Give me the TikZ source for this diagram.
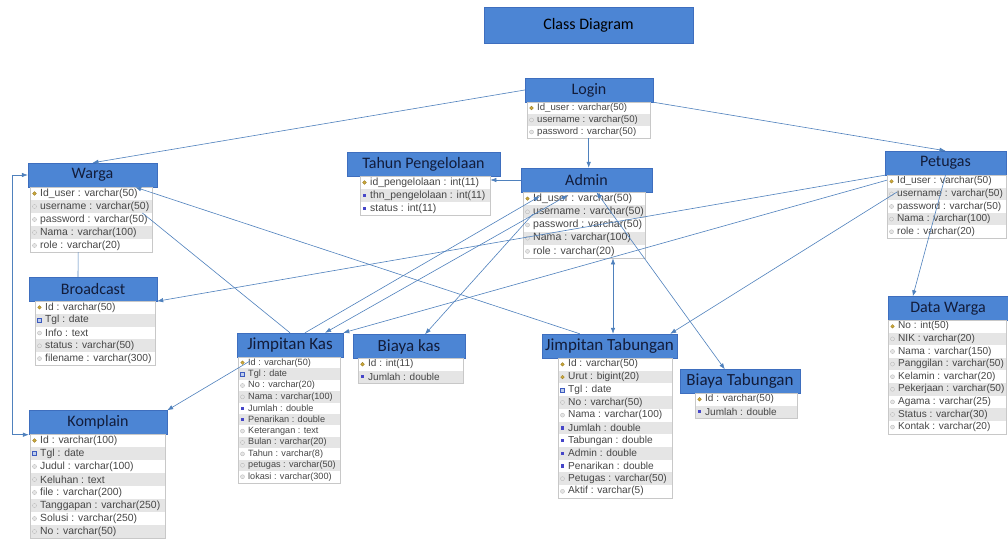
\documentclass[tikz,border=0pt]{standalone}
\usepackage{fontspec}
\setmainfont{Liberation Sans}
\newfontfamily\headfont{Carlito}
\usepackage{tikz}
\usetikzlibrary{arrows.meta,calc}
\definecolor{headfill}{RGB}{76,133,212}
\definecolor{headline}{RGB}{62,110,190}
\definecolor{headtext}{RGB}{18,28,58}
\definecolor{linkcol}{RGB}{79,129,189}
\definecolor{rowgray}{RGB}{229,229,229}
\definecolor{frameline}{RGB}{200,200,200}
\definecolor{fieldtext}{RGB}{70,70,70}

\begin{document}
\begin{tikzpicture}[x=1pt, y=-1pt,
    header/.style={rectangle, draw=headline, fill=headfill, minimum height=24pt, inner sep=0pt,
      text=headtext, font=\headfont\fontsize{16}{16}\selectfont},
    attrframe/.style={rectangle, fill=white, inner sep=0pt},
    attrline/.style={draw=frameline, line width=0.5pt},
    attrtext/.style={anchor=west, inner sep=0pt, text=fieldtext},
    keyicon/.style={circle, minimum size=3.6pt, inner sep=0pt, fill={rgb,255:red,205;green,170;blue,60}, draw={rgb,255:red,150;green,120;blue,30}, line width=0.3pt},
    fieldicon/.style={circle, minimum size=4pt, inner sep=0pt, fill=gray!20, draw=gray!60, line width=0.3pt},
    numicon/.style={rectangle, minimum size=3.4pt, inner sep=0pt, fill={rgb,255:red,70;green,70;blue,200}},
    dateicon/.style={rectangle, minimum size=4pt, inner sep=0pt, fill={rgb,255:red,190;green,205;blue,235}, draw={rgb,255:red,60;green,90;blue,190}, line width=0.4pt},
    link/.style={draw=linkcol, line width=0.6pt, -{Latex[length=6pt,width=4.5pt]}},
    twoway/.style={draw=linkcol, line width=0.6pt, {Latex[length=6pt,width=4.5pt]}-{Latex[length=6pt,width=4.5pt]}},
    plain/.style={draw=linkcol, line width=0.6pt}]

  % Variables
  % name, x, y, width, row height, rows, fields
  \def\tablerows#1#2#3#4#5#6#7{%
    \pgfmathsetmacro\fs{0.8*#5}
    \pgfmathsetmacro\bh{#5*#6}
    \node[attrframe, minimum width=#4pt, minimum height=\bh pt, anchor=north west] (#1) at (#2,#3) {};
    \foreach \ic/\txt [count=\n from 0] in {#7} {
      \ifodd\n \fill[rowgray] (#2,#3+\n*#5) rectangle (#2+#4,#3+\n*#5+#5); \fi
      \node[\ic] at (#2+4.5,#3+\n*#5+0.5*#5) {};
      \node[attrtext, font=\fontsize{\fs}{\fs}\selectfont] at (#2+10,#3+\n*#5+0.5*#5) {\txt};
    }
    \draw[attrline] (#1.north west) rectangle (#1.south east);
  }

  \fill[white] (0,0) rectangle (1008,540);
  \useasboundingbox (0,0) rectangle (1008,540);

  % Title
  \node[header, minimum width=209pt, minimum height=36pt, text=black, font=\headfont\fontsize{16}{16}\selectfont] (title) at (588.5,25) {Class Diagram};

  % Tables
  \node[header, minimum width=128pt] (login) at (589,90) {Login};
  \tablerows{login-a}{527}{102}{123}{12}{3}{keyicon/Id\_user : varchar(50), fieldicon/username : varchar(50), fieldicon/password : varchar(50)}

  \node[header, minimum width=129pt] (warga) at (92.5,175) {Warga};
  \tablerows{warga-a}{30}{187}{122}{13}{5}{keyicon/Id\_user : varchar(50), fieldicon/username : varchar(50), fieldicon/password : varchar(50), fieldicon/Nama : varchar(100), fieldicon/role : varchar(20)}

  \node[header, minimum width=153pt] (tahun) at (423.5,164) {Tahun Pengelolaan};
  \tablerows{tahun-a}{360}{176}{130}{13}{3}{keyicon/id\_pengelolaan : int(11), numicon/thn\_pengelolaan : int(11), numicon/status : int(11)}

  \node[header, minimum width=131pt] (admin) at (586.5,180) {Admin};
  \tablerows{admin-a}{523}{192}{122}{13.2}{5}{keyicon/Id\_user : varchar(50), fieldicon/username : varchar(50), fieldicon/password : varchar(50), fieldicon/Nama : varchar(100), fieldicon/role : varchar(20)}

  \node[header, minimum width=121pt] (petugas) at (945.5,163) {Petugas};
  \tablerows{petugas-a}{887}{175}{119}{12.6}{5}{keyicon/Id\_user : varchar(50), fieldicon/username : varchar(50), fieldicon/password : varchar(50), fieldicon/Nama : varchar(100), fieldicon/role : varchar(20)}

  \node[header, minimum width=128pt] (broadcast) at (93,289) {Broadcast};
  \tablerows{broadcast-a}{35}{301}{120}{12.8}{5}{keyicon/Id : varchar(50), dateicon/Tgl : date, fieldicon/Info : text, fieldicon/status : varchar(50), fieldicon/filename : varchar(300)}

  \node[header, minimum width=106pt, font=\headfont\fontsize{17}{17}\selectfont] (jk) at (290,345) {Jimpitan Kas};
  \tablerows{jk-a}{238}{357}{102}{11.4}{11}{keyicon/Id : varchar(50), dateicon/Tgl : date, fieldicon/No : varchar(20), fieldicon/Nama : varchar(100), numicon/Jumlah : double, numicon/Penarikan : double, fieldicon/Keterangan : text, fieldicon/Bulan : varchar(20), fieldicon/Tahun : varchar(8), fieldicon/petugas : varchar(50), fieldicon/lokasi : varchar(300)}

  \node[header, minimum width=112pt, font=\headfont\fontsize{17}{17}\selectfont] (bk) at (409,346.5) {Biaya kas};
  \tablerows{bk-a}{358}{358}{105}{12.5}{2}{keyicon/Id : int(11), numicon/Jumlah : double}

  \node[header, minimum width=135pt, font=\headfont\fontsize{17}{17}\selectfont] (jt) at (609.5,346) {Jimpitan Tabungan};
  \tablerows{jt-a}{558}{358}{114}{12.7}{11}{keyicon/Id : varchar(50), keyicon/Urut : bigint(20), dateicon/Tgl : date, fieldicon/No : varchar(50), fieldicon/Nama : varchar(100), numicon/Jumlah : double, numicon/Tabungan : double, numicon/Admin : double, numicon/Penarikan : double, fieldicon/Petugas : varchar(50), fieldicon/Aktif : varchar(5)}

  \node[header, minimum width=120pt, font=\headfont\fontsize{17}{17}\selectfont] (bt) at (740,381.5) {Biaya Tabungan};
  \tablerows{bt-a}{695}{393}{102}{12.5}{2}{keyicon/Id : varchar(50), numicon/Jumlah : double}

  \node[header, minimum width=120pt] (datawarga) at (948,308.5) {Data Warga};
  \tablerows{datawarga-a}{888}{320}{118}{12.6}{9}{keyicon/No : int(50), fieldicon/NIK : varchar(20), fieldicon/Nama : varchar(150), fieldicon/Panggilan : varchar(50), fieldicon/Kelamin : varchar(20), fieldicon/Pekerjaan : varchar(50), fieldicon/Agama : varchar(25), fieldicon/Status : varchar(30), fieldicon/Kontak : varchar(20)}

  \node[header, minimum width=138pt] (komplain) at (98,422.5) {Komplain};
  \tablerows{komplain-a}{30}{434}{135}{13}{8}{keyicon/Id : varchar(100), dateicon/Tgl : date, fieldicon/Judul : varchar(100), fieldicon/Keluhan : text, fieldicon/file : varchar(200), fieldicon/Tanggapan : varchar(250), fieldicon/Solusi : varchar(250), fieldicon/No : varchar(50)}

  % Connectors
  \coordinate (adm-foot) at ($(admin-a.south west)+(90,0)$);
  \draw[link] (login.west) -- (warga.north);
  \draw[link] (login.south east) -- (petugas.north);
  \draw[link] (login-a.south) -- (login-a.south |- admin.north);
  \draw[link] (admin.west) -- (admin.west -| tahun-a.east);
  \draw[plain] ($(warga-a.south)+(-13,0)$) -- ($(broadcast.north)+(-15,0)$);
  \draw[twoway] (komplain.south west) -- ++(-17,0) |- (warga.west);
  \draw[link] ($(jk-a.north west)+(12,4)$) -- (komplain.north east);
  \draw[link] (petugas.south west) -- (broadcast.south east);
  \draw[link] ($(petugas.south west)+(2,5)$) -- (jk.north east);
  \draw[link] ($(petugas-a.north west)+(10,17)$) -- ($(jt.north east)+(-7,0)$);
  \draw[link] (petugas.south) -- ($(datawarga.north west)+(25,0)$);
  \draw[twoway] (adm-foot) -- (adm-foot |- jt.north);
  \draw[twoway] ($(admin.south)+(10,0)$) -- ($(bt.north west)+(45,0)$);
  \draw[link] ($(jk.north)+(15,0)$) -- ($(admin.south west)+(19,4)$);
  \draw[twoway] ($(jk.north)+(35,0)$) -- ($(admin.south west)+(47,3)$);
  \draw[link] ($(admin-a.north west)+(10,22)$) -- ($(bk.north)+(16,0)$);
  \draw[link] ($(jt.north west)+(38,0)$) -- ($(warga.south east)+(-22,0)$);
  \draw[plain] ($(warga-a.north east)+(-10,26)$) -- (jk.north);

\end{tikzpicture}
\end{document}
